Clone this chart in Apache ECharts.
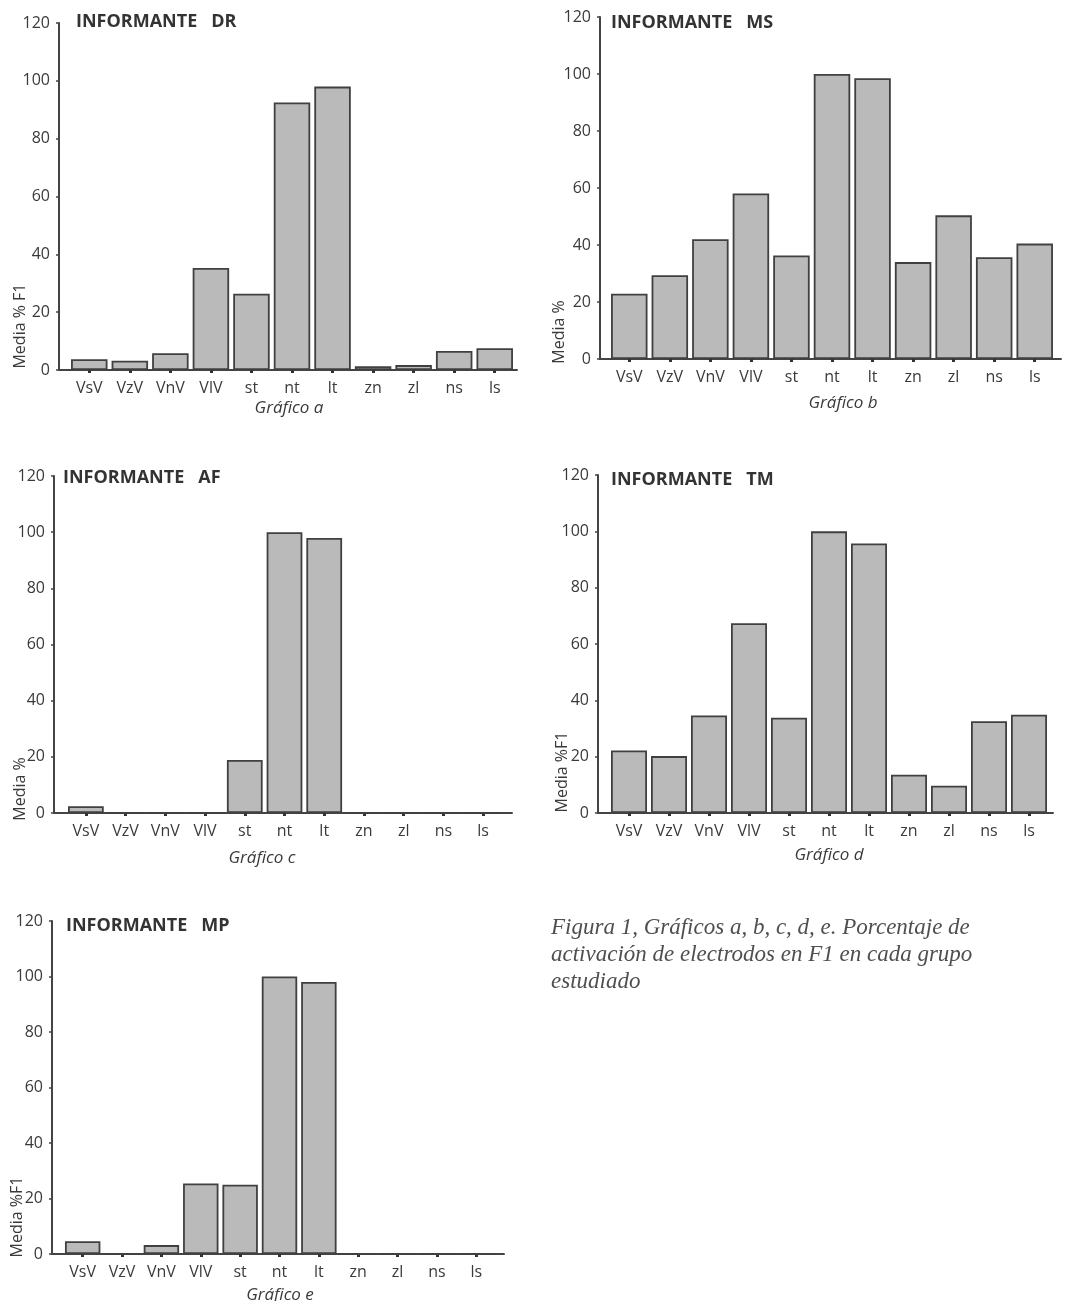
<!DOCTYPE html>
<html>
<head>
<meta charset="utf-8">
<script src="https://cdn.jsdelivr.net/npm/echarts@6/dist/echarts.min.js"></script>
<style>
html,body{margin:0;padding:0;background:#fff;}
#c{width:1078px;height:1301px;}
</style>
</head>
<body>
<div id="c"></div>
<script>
// ---- data ----
const categories = ['VsV','VzV','VnV','VlV','st','nt','lt','zn','zl','ns','ls'];
const valuesDR = [3.7, 3.2, 5.8, 35.3, 26.4, 92.5, 98.0, 1.3, 1.7, 6.6, 7.5];
const valuesMS = [22.9, 29.4, 42.0, 58.1, 36.3, 100, 98.5, 34.0, 50.4, 35.7, 40.5];
const valuesAF = [2.4, 0, 0, 0, 18.9, 100, 97.9, 0, 0, 0, 0];
const valuesTM = [22.2, 20.2, 34.6, 67.4, 33.8, 100, 95.7, 13.6, 9.7, 32.6, 34.9];
const valuesMP = [4.6, 0, 3.2, 25.4, 25.0, 100, 98.0, 0, 0, 0, 0];
const yMin = 0, yMax = 120, yStep = 20;
const titles = ['INFORMANTE   DR','INFORMANTE   MS','INFORMANTE   AF','INFORMANTE   TM','INFORMANTE   MP'];
const yNames = ['Media % F1','Media %','Media %','Media %F1','Media %F1'];
const xNames = ['Gráfico a','Gráfico b','Gráfico c','Gráfico d','Gráfico e'];
const captionLines = ['Figura 1, Gráficos a, b, c, d, e. Porcentaje de','activación de electrodos en F1 en cada grupo','estudiado'];

// ---- layout ----
const panels = [
  {vals: valuesDR, axisX: 59, catStart: 69, catEnd: 515, axisEnd: 517, top: 23, bottom: 370, tx: 76, ty: 22, yl: [20, 326], xl: [289, 408]},
  {vals: valuesMS, axisX: 600, catStart: 609, catEnd: 1055, axisEnd: 1061, top: 17, bottom: 359, tx: 611, ty: 23, yl: [559, 332], xl: [843, 403]},
  {vals: valuesAF, axisX: 54, catStart: 66, catEnd: 503, axisEnd: 512, top: 476, bottom: 813, tx: 63, ty: 478, yl: [20, 789], xl: [262, 858]},
  {vals: valuesTM, axisX: 598, catStart: 609, catEnd: 1049, axisEnd: 1053, top: 475, bottom: 813, tx: 611, ty: 480, yl: [562, 772], xl: [829, 855]},
  {vals: valuesMP, axisX: 52, catStart: 63, catEnd: 496, axisEnd: 504, top: 921, bottom: 1254, tx: 66, ty: 926, yl: [17, 1217], xl: [280, 1295]}
];

const FONT = '"Open Sans", "Noto Sans", sans-serif';
const TXT = '#3a3a3a';
const LINE = '#444';

const grid = [], xAxis = [], yAxis = [], series = [], graphic = [];
panels.forEach((p, i) => {
  const h = p.bottom - p.top;
  grid.push({left: p.axisX, top: p.top, width: p.axisEnd - p.axisX, height: h, containLabel: false});
  grid.push({left: p.catStart, top: p.top, width: p.catEnd - p.catStart, height: h, containLabel: false});
  const g0 = 2 * i, g1 = 2 * i + 1;
  xAxis.push({
    type: 'value', gridIndex: g0, min: 0, max: 1,
    axisLine: {show: true, onZero: false, lineStyle: {color: LINE, width: 2}},
    axisTick: {show: false}, axisLabel: {show: false}, splitLine: {show: false}
  });
  xAxis.push({
    type: 'category', gridIndex: g1, data: categories,
    axisLine: {show: false},
    axisTick: {show: true, alignWithLabel: true, length: 3, lineStyle: {color: '#333', width: 3}},
    axisLabel: {color: TXT, fontFamily: FONT, fontSize: 16, margin: 10, interval: 0},
    splitLine: {show: false}
  });
  yAxis.push({
    type: 'value', gridIndex: g0, min: yMin, max: yMax, interval: yStep,
    axisLine: {show: true, lineStyle: {color: LINE, width: 2}},
    axisTick: {show: true, length: 3, lineStyle: {color: LINE, width: 1.5}},
    axisLabel: {color: TXT, fontFamily: FONT, fontSize: 16, margin: 9},
    splitLine: {show: false}
  });
  yAxis.push({type: 'value', gridIndex: g1, min: yMin, max: yMax, interval: yStep, show: false, splitLine: {show: false}});
  series.push({
    type: 'bar', xAxisIndex: g1, yAxisIndex: g1, data: p.vals,
    barCategoryGap: '10%',
    itemStyle: {color: '#bababa', borderColor: '#404040', borderWidth: 1.8},
    emphasis: {disabled: true}, animation: false
  });
  graphic.push({
    type: 'text', x: p.tx, y: p.ty,
    style: {text: titles[i], font: 'bold 18px ' + FONT, fill: '#333', align: 'left', verticalAlign: 'middle'}
  });
  graphic.push({
    type: 'text', x: p.yl[0], y: p.yl[1], rotation: Math.PI / 2,
    style: {text: yNames[i], font: '16px ' + FONT, fill: TXT, align: 'center', verticalAlign: 'middle'}
  });
  graphic.push({
    type: 'text', x: p.xl[0], y: p.xl[1],
    style: {text: xNames[i], font: 'italic 17px ' + FONT, fill: TXT, align: 'center', verticalAlign: 'middle'}
  });
});

graphic.push({
  type: 'text', x: 551, y: 914,
  style: {text: captionLines.join('\n'), font: 'italic 23px "Liberation Serif", "DejaVu Serif", serif', lineHeight: 27, fill: '#4f4f4f', align: 'left', verticalAlign: 'top'}
});

const chart = echarts.init(document.getElementById('c'), null, {renderer: 'canvas'});
chart.setOption({
  backgroundColor: '#fff',
  animation: false,
  grid, xAxis, yAxis, series, graphic
});
</script>
</body>
</html>
